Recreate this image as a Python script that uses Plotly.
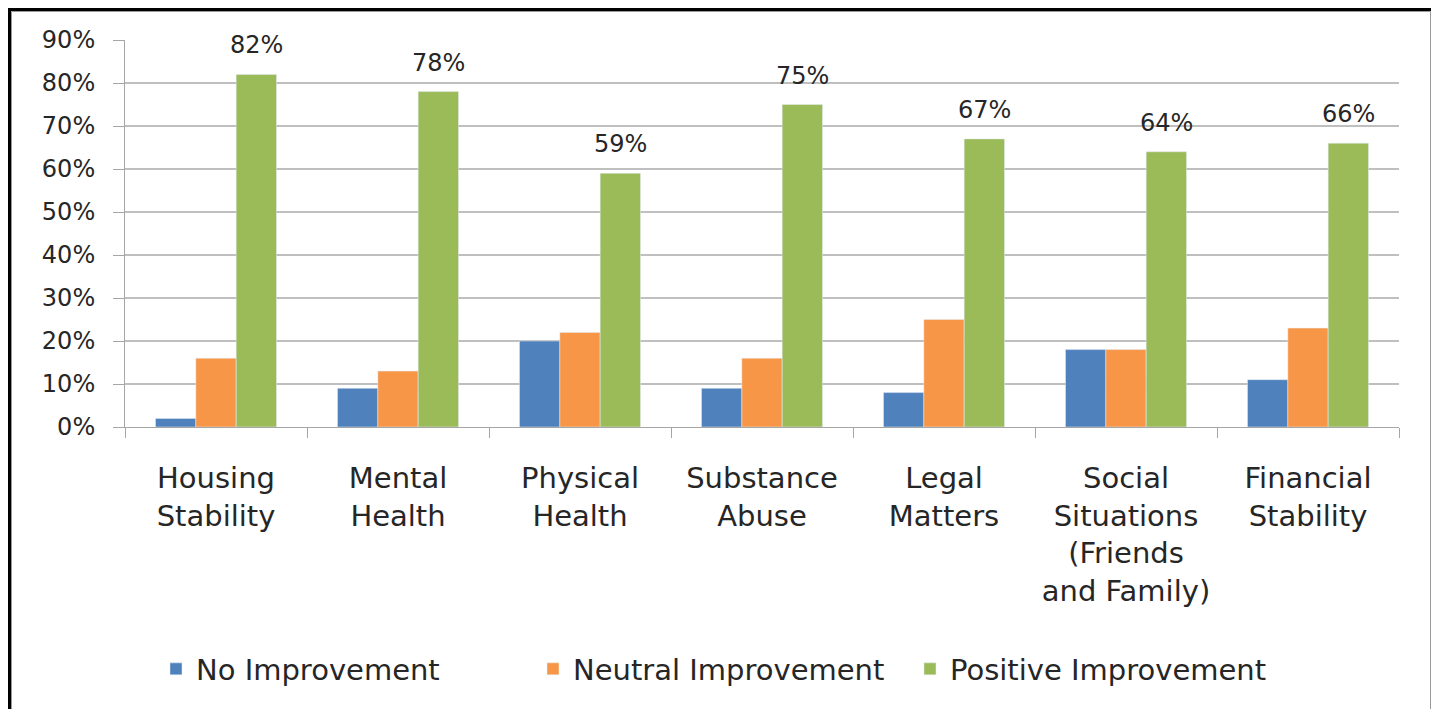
import plotly.graph_objects as go

categories = ["Housing<br>Stability", "Mental<br>Health", "Physical<br>Health", "Substance<br>Abuse",
              "Legal<br>Matters", "Social<br>Situations<br>(Friends<br>and Family)", "Financial<br>Stability"]
no_improvement = [2, 9, 20, 9, 8, 18, 11]
neutral_improvement = [16, 13, 22, 16, 25, 18, 23]
positive_improvement = [82, 78, 59, 75, 67, 64, 66]
y_ticks = [0, 10, 20, 30, 40, 50, 60, 70, 80, 90]
y_tick_labels = ["0%", "10%", "20%", "30%", "40%", "50%", "60%", "70%", "80%", "90%"]

# page has an 8px body margin: figure coordinates = reference pixel - 8
W, H = 1431, 701
L, T = 117, 32
PLOT_R, PLOT_B = 1391, 419
R, B = W - PLOT_R, H - PLOT_B
PW, PH = PLOT_R - L, PLOT_B - T
BARGAP = 0.335


def px(x):
    return (x - L) / PW


def py(y):
    return (PLOT_B - y) / PH


FONT = "DejaVu Sans"
TXT = "#262626"

fig = go.Figure()
fig.add_trace(go.Bar(x=categories, y=no_improvement, name="No Improvement", marker_color="#4F81BD"))
fig.add_trace(go.Bar(x=categories, y=neutral_improvement, name="Neutral Improvement", marker_color="#F79646"))
fig.add_trace(go.Bar(x=categories, y=positive_improvement, name="Positive Improvement", marker_color="#9BBB59"))

# data labels above the green bars
bar_w = PW / len(categories) * (1 - BARGAP) / 3
for c, v in zip(categories, positive_improvement):
    fig.add_annotation(x=c, y=v, text=f"{v}%", showarrow=False, xshift=bar_w, yanchor="bottom", yshift=13,
                       font=dict(family=FONT, size=24, color=TXT))

fig.update_layout(
    width=W, height=H,
    margin=dict(l=L, r=R, t=T, b=B),
    paper_bgcolor="white", plot_bgcolor="white",
    barmode="group", bargap=BARGAP, bargroupgap=0,
    font=dict(family=FONT, color=TXT),
    showlegend=True,
    legend=dict(orientation="h", x=px(148), xanchor="left", y=py(661), yanchor="middle",
                entrywidth=332, entrywidthmode="pixels",
                font=dict(family=FONT, size=29, color=TXT), traceorder="normal"),
    xaxis=dict(showline=True, linecolor="#A6A6A6", linewidth=1, ticks="outside", tickson="boundaries",
               ticklen=10, tickcolor="#A6A6A6", tickfont=dict(family=FONT, size=29, color=TXT),
               ticklabelstandoff=25),
    yaxis=dict(range=[0, 90], tickvals=y_ticks, ticktext=y_tick_labels, showgrid=True, gridcolor="#BFBFBF",
               gridwidth=1.5, showline=True, linecolor="#A6A6A6", ticks="outside", ticklen=11,
               tickcolor="#A6A6A6", tickfont=dict(family=FONT, size=24, color=TXT), zeroline=False,
               ticklabelstandoff=13),
)

fig.add_shape(type="rect", xref="paper", yref="paper", x0=px(1.5), x1=px(1424.5), y0=py(1.5), y1=py(760),
              line=dict(color="black", width=3), layer="above")
fig.add_shape(type="rect", xref="paper", yref="paper", x0=px(3.5), x1=px(1422.5), y0=py(3.5), y1=py(760),
              line=dict(color="#9A9A9A", width=1), layer="above")

fig.write_html("out.html")
